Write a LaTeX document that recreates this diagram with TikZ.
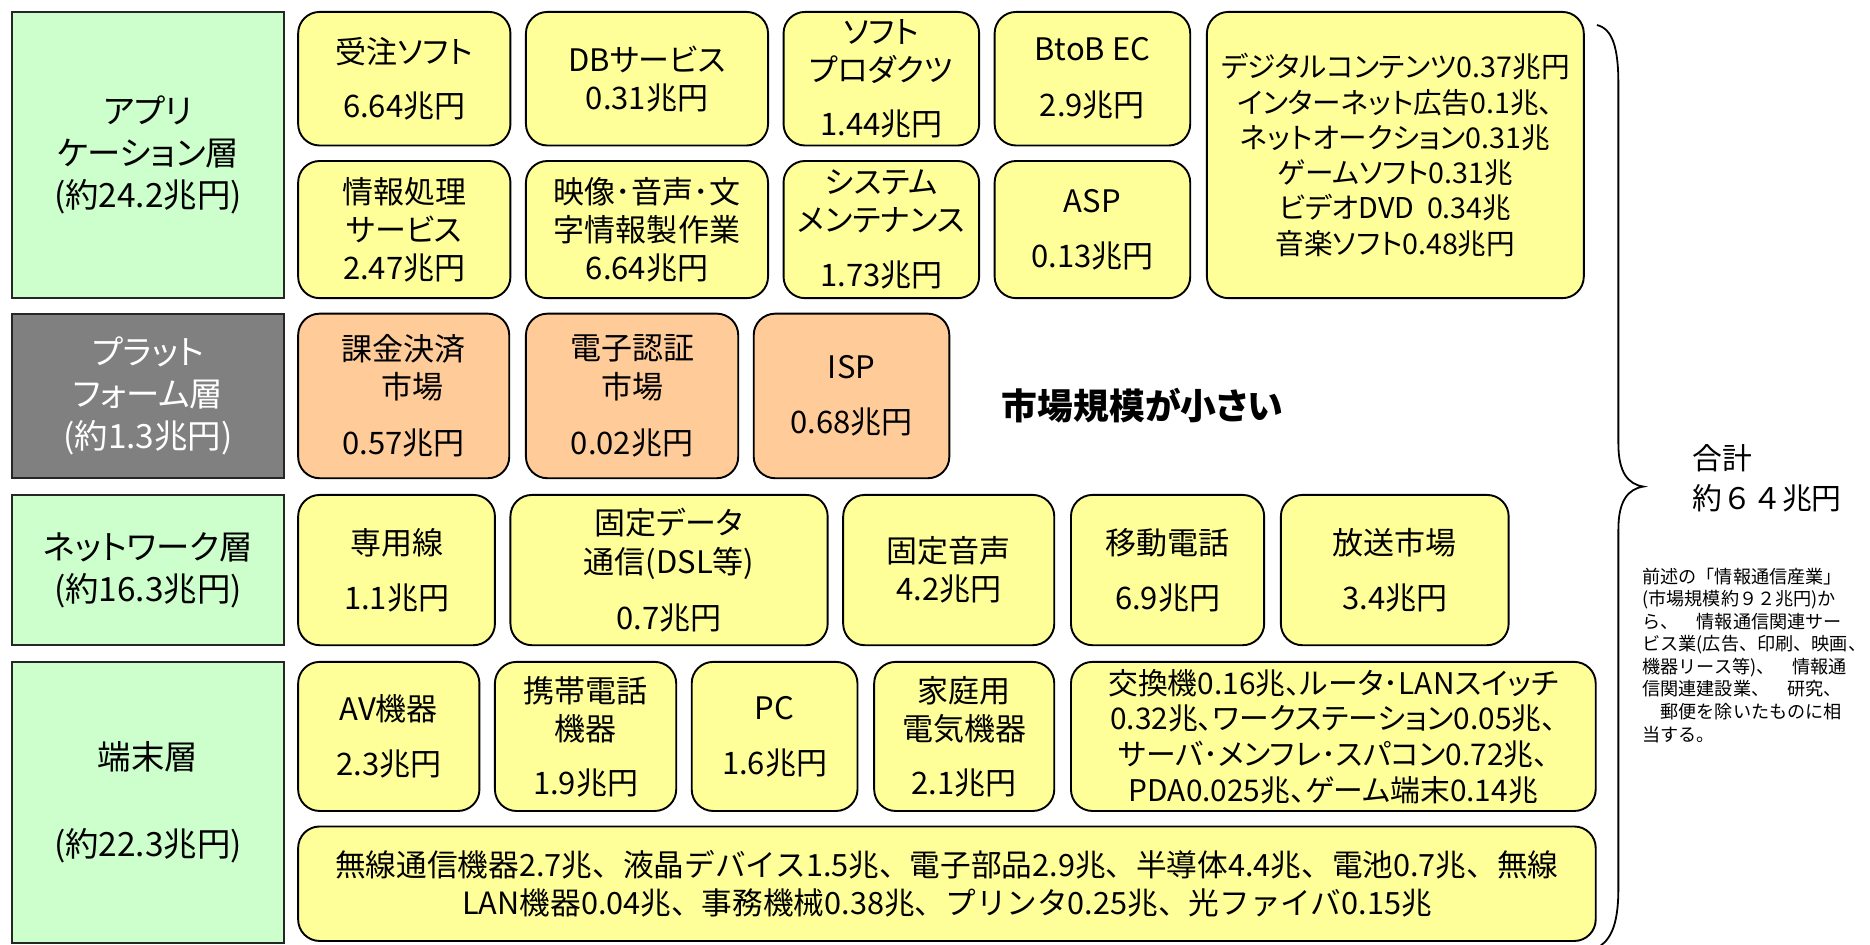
\documentclass[tikz,border=0pt]{standalone}
\usepackage{fontspec}
\setmainfont{Noto Sans CJK JP}[RawFeature={+palt}]
\newfontfamily\notefont{Noto Sans CJK JP}
\definecolor{grn}{HTML}{CCFFCC}
\definecolor{gry}{HTML}{808080}
\definecolor{ylw}{HTML}{FFFF99}
\definecolor{org}{HTML}{FFCC99}
\tikzset{
  base/.style={draw=black, line width=1.6pt, align=center, inner sep=0pt, text=black},
  yb/.style={base, rounded corners=18pt, fill=ylw, font=\fontsize{26}{32}\selectfont},
  ob/.style={yb, fill=org},
  lay/.style={base, draw=black!85, fill=grn, font=\fontsize{28}{35}\selectfont},
  play/.style={lay, fill=gry, text=white},
}
\newcommand\bx[7]{\node[#2, minimum width={#5-#3}, minimum height={#6-#4}] (#1) at ({(#3+#5)/2},{(#4+#6)/2}) {#7};}
\begin{document}
\begin{tikzpicture}[x=1pt,y=-1pt]
\fill[white] (0,0) rectangle (1568,792);
\useasboundingbox (0,0) rectangle (1568,792);
% layers
\bx{app}{lay}{10}{10}{238}{250}{アプリ\\ケーション層\\(約24.2兆円)}
\bx{plat}{play}{10}{263}{238}{401}{プラット\\フォーム層\\(約1.3兆円)}
\bx{net}{lay}{10}{415}{238}{541}{ネットワーク層\\(約16.3兆円)}
\bx{term}{lay}{10}{555}{238}{791}{端末層\\[38pt](約22.3兆円)}
% application row 1
\bx{juchu}{yb}{250}{10}{428}{122}{受注ソフト\\[14pt]6.64兆円}
\bx{db}{yb}{441}{10}{644}{122}{DBサービス\\0.31兆円}
\bx{soft}{yb}{657}{10}{821}{122}{ソフト\\プロダクツ\\[13pt]1.44兆円}
\bx{btob}{yb}{834}{10}{998}{122}{BtoB EC\\[15pt]2.9兆円}
\bx{digi}{yb, font=\fontsize{24}{29.6}\selectfont}{1012}{10}{1328}{250}{デジタルコンテンツ0.37兆円\\インターネット広告0.1兆、\\ネットオークション0.31兆\\ゲームソフト0.31兆\\ビデオDVD\ \ 0.34兆\\音楽ソフト0.48兆円}
% application row 2
\bx{joho}{yb}{250}{135}{428}{250}{情報処理\\サービス\\2.47兆円}
\bx{eizo}{yb}{441}{135}{644}{250}{映像･音声･文\\字情報製作業\\6.64兆円}
\bx{sys}{yb}{657}{135}{821}{250}{システム\\メンテナンス\\[14pt]1.73兆円}
\bx{asp}{yb}{834}{135}{998}{250}{ASP\\[14pt]0.13兆円}
% platform
\bx{kakin}{ob}{250}{263}{427}{401}{課金決済\\\hspace*{14pt}市場\\[15pt]0.57兆円}
\bx{denshi}{ob}{441}{263}{619}{401}{電子認証\\市場\\[15pt]0.02兆円}
\bx{isp}{ob}{632}{263}{796}{401}{ISP\\[14pt]0.68兆円}
\node[font=\bfseries\fontsize{30}{36}\selectfont] (small) at (958,340) {市場規模が小さい};
% network
\bx{senyo}{yb}{250}{415}{415}{541}{専用線\\[14pt]1.1兆円}
\bx{kotei}{yb}{428}{415}{694}{541}{固定データ\\通信(DSL等)\\[15pt]0.7兆円}
\bx{onsei}{yb}{707}{415}{884}{541}{固定音声\\4.2兆円}
\bx{ido}{yb}{898}{415}{1060}{541}{移動電話\\[14pt]6.9兆円}
\bx{hoso}{yb}{1074}{415}{1265}{541}{放送市場\\[14pt]3.4兆円}
% terminal
\bx{av}{yb}{250}{555}{402}{680}{AV機器\\[14pt]2.3兆円}
\bx{keitai}{yb}{415}{555}{567}{680}{携帯電話\\機器\\[13pt]1.9兆円}
\bx{pc}{yb}{580}{555}{719}{680}{PC\\[14pt]1.6兆円}
\bx{kaden}{yb}{733}{555}{884}{680}{家庭用\\電気機器\\[13pt]2.1兆円}
\bx{kokan}{yb, font=\fontsize{25}{30}\selectfont}{898}{555}{1338}{680}{交換機0.16兆、ルータ･LANスイッチ\\0.32兆、ワークステーション0.05兆、\\サーバ･メンフレ･スパコン0.72兆、\\PDA0.025兆、ゲーム端末0.14兆}
\bx{musen}{yb, font=\notefont\fontsize{25.7}{32}\selectfont}{250}{693}{1338}{789}{無線通信機器2.7兆、液晶デバイス1.5兆、電子部品2.9兆、半導体4.4兆、電池0.7兆、無線\\LAN機器0.04兆、事務機械0.38兆、プリンタ0.25兆、光ファイバ0.15兆}
% brace
\draw[line width=1.5pt] (1339,21) .. controls (1352,24) and (1357,40) .. (1357,70) -- (1357,372)
  .. controls (1357,396) and (1365,406) .. (1378,408)
  .. controls (1365,410) and (1357,420) .. (1357,444) -- (1357,745)
  .. controls (1357,772) and (1352,786) .. (1342,793);
% totals
\node[anchor=west, inner sep=0pt, align=left, font=\notefont\fontsize{25}{33}\selectfont] (total) at (1419,401) {合計\\約６４兆円};
\node[anchor=north west, inner sep=0pt, align=left, font=\notefont\fontsize{15.2}{18.9}\selectfont] (note) at (1377,476) {前述の「情報通信産業」\\(市場規模約９２兆円)か\\ら、　情報通信関連サー\\ビス業(広告、印刷、映画、\\機器リース等)、　情報通\\信関連建設業、　研究、\\　郵便を除いたものに相\\当する。};
\end{tikzpicture}
\end{document}
